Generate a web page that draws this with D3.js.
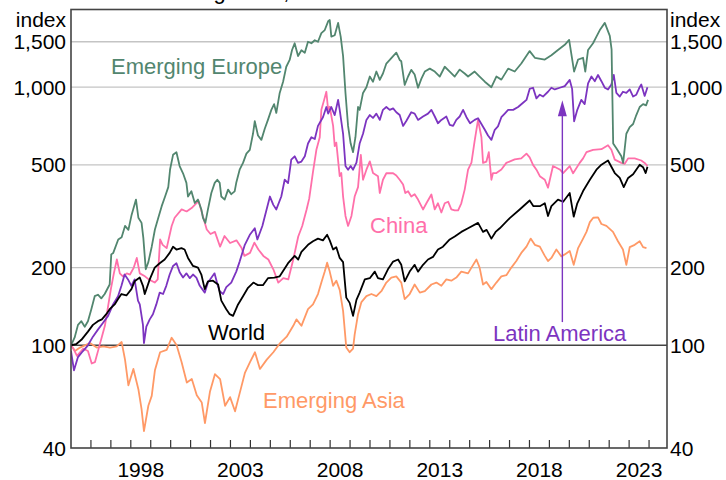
<!DOCTYPE html>
<html>
<head>
<meta charset="utf-8">
<script src="https://cdn.jsdelivr.net/npm/d3@7"></script>
<style>
  html, body { margin: 0; padding: 0; background: #ffffff; }
  svg { display: block; font-family: "Liberation Sans", Arial, Helvetica, sans-serif; }
</style>
</head>
<body>
<svg id="chart" width="726" height="480"></svg>
<script>
// ---- axis values ----
const yTickValues = [40, 100, 200, 500, 1000, 1500];
const gridValues = [200, 500, 1000, 1500];
const baseValue = 100;
const yearTicks = d3.range(1996, 2025);
const yearLabels = [1998, 2003, 2008, 2013, 2018, 2023];
const subtitle = "Log scale, end December 1994 = 100";

// ---- series: [decimal year, index] ----
const emergingAsia = [[1995.0,100],[1995.2,95],[1995.45,98],[1995.95,102],[1996.29,98],[1996.62,99],[1996.96,98],[1997.29,99],[1997.54,103],[1997.71,88],[1997.88,70],[1998.13,81],[1998.38,67.6],[1998.54,56.6],[1998.66,46.5],[1998.88,58.3],[1999.05,63.7],[1999.21,80],[1999.47,94],[1999.8,96],[2000.05,107],[2000.3,100],[2000.55,86],[2000.81,71.7],[2001.06,74],[2001.31,64],[2001.56,60],[2001.72,50],[2001.97,66],[2002.22,77.3],[2002.48,74],[2002.73,58.3],[2002.98,63],[2003.23,55.5],[2003.48,66],[2003.73,78.4],[2003.98,86],[2004.23,94],[2004.48,81],[2004.82,88],[2005.15,94],[2005.49,102],[2005.82,108],[2006.15,119],[2006.31,126],[2006.56,119],[2006.89,138],[2007.14,144],[2007.39,158],[2007.56,175],[2007.73,193],[2007.85,209],[2007.98,193],[2008.15,170],[2008.31,178],[2008.48,164],[2008.65,136],[2008.81,98],[2008.98,94],[2009.15,97],[2009.23,110],[2009.4,132],[2009.57,147],[2009.82,155],[2010.07,158],[2010.32,155],[2010.57,162],[2010.82,175],[2011.07,183],[2011.32,185],[2011.57,175],[2011.74,151],[2011.99,158],[2012.24,172],[2012.5,160],[2012.75,162],[2013.08,172],[2013.33,175],[2013.58,170],[2013.83,180],[2014.08,178],[2014.33,183],[2014.58,193],[2014.92,190],[2015.09,200],[2015.34,215],[2015.5,200],[2015.67,172],[2015.84,176],[2016.09,165],[2016.34,175],[2016.59,185],[2016.84,187],[2017.09,200],[2017.34,212],[2017.59,228],[2017.85,241],[2018.06,259],[2018.27,245],[2018.52,241],[2018.77,222],[2018.93,212],[2019.1,218],[2019.35,235],[2019.6,221],[2019.77,225],[2020.02,232],[2020.22,205],[2020.44,238],[2020.69,259],[2020.86,275],[2021.03,300],[2021.2,312],[2021.44,313],[2021.61,295],[2021.86,290],[2022.19,275],[2022.44,253],[2022.69,235],[2022.86,205],[2023.03,240],[2023.28,245],[2023.53,253],[2023.7,240],[2023.87,238]];

const china = [[1995.0,100],[1995.12,97],[1995.3,91],[1995.62,97],[1995.85,95],[1996.04,85],[1996.2,86],[1996.37,96],[1996.55,108],[1996.7,119],[1996.85,140],[1997.0,165],[1997.15,190],[1997.3,215],[1997.45,190],[1997.6,185],[1997.8,190],[1997.96,188],[1998.15,200],[1998.3,218],[1998.45,190],[1998.71,185],[1998.9,180],[1999.2,175],[1999.35,180],[1999.47,257],[1999.6,245],[1999.8,238],[2000.05,290],[2000.2,312],[2000.55,336],[2000.8,330],[2001.05,340],[2001.31,356],[2001.4,362],[2001.6,320],[2001.81,281],[2002.0,270],[2002.22,275],[2002.48,241],[2002.7,265],[2002.98,249],[2003.3,255],[2003.56,238],[2003.7,222],[2003.98,228],[2004.2,250],[2004.4,235],[2004.65,222],[2004.9,215],[2005.15,197],[2005.4,175],[2005.65,182],[2005.9,180],[2006.15,215],[2006.4,264],[2006.6,290],[2006.82,336],[2006.95,370],[2007.14,470],[2007.31,572],[2007.48,640],[2007.56,817],[2007.7,893],[2007.81,960],[2007.9,817],[2007.98,840],[2008.15,708],[2008.23,591],[2008.31,610],[2008.48,452],[2008.56,465],[2008.65,377],[2008.77,317],[2008.9,290],[2009.07,317],[2009.23,377],[2009.4,410],[2009.54,547],[2009.65,438],[2009.82,479],[2009.99,516],[2010.15,465],[2010.4,452],[2010.49,389],[2010.65,438],[2010.82,464],[2011.16,464],[2011.32,455],[2011.49,438],[2011.66,420],[2011.77,389],[2011.91,395],[2012.07,377],[2012.24,385],[2012.41,367],[2012.66,336],[2012.83,355],[2013.08,384],[2013.25,336],[2013.41,355],[2013.58,327],[2013.75,355],[2013.92,360],[2014.08,336],[2014.25,333],[2014.42,333],[2014.58,355],[2014.75,401],[2014.92,479],[2015.09,510],[2015.25,620],[2015.42,747],[2015.59,640],[2015.67,509],[2015.84,515],[2015.96,560],[2016.09,438],[2016.17,465],[2016.34,465],[2016.59,480],[2016.84,509],[2017.26,525],[2017.59,530],[2017.85,553],[2018.01,535],[2018.18,500],[2018.35,479],[2018.52,452],[2018.77,438],[2018.93,408],[2019.18,495],[2019.52,480],[2019.69,465],[2020.02,495],[2020.19,464],[2020.52,509],[2020.69,530],[2020.86,560],[2021.19,572],[2021.61,575],[2021.94,596],[2022.11,572],[2022.28,524],[2022.61,509],[2022.78,505],[2022.95,530],[2023.28,530],[2023.61,520],[2023.78,509],[2023.92,495]];

const latinAmerica = [[1995.0,95],[1995.15,80],[1995.35,90],[1995.6,95],[1995.85,100],[1996.1,108],[1996.35,115],[1996.6,122],[1996.86,130],[1997.11,144],[1997.36,155],[1997.53,170],[1997.69,188],[1997.86,180],[1998.03,170],[1998.19,180],[1998.36,149],[1998.45,144],[1998.61,120],[1998.66,102],[1998.78,118],[1998.95,126],[1999.11,132],[1999.28,144],[1999.45,160],[1999.62,158],[1999.78,170],[1999.95,188],[2000.12,203],[2000.29,208],[2000.45,192],[2000.62,183],[2000.79,190],[2000.96,182],[2001.12,188],[2001.29,183],[2001.46,170],[2001.71,160],[2001.87,175],[2002.2,190],[2002.35,172],[2002.46,162],[2002.63,158],[2002.79,168],[2003.04,175],[2003.29,193],[2003.46,211],[2003.72,245],[2003.97,268],[2004.22,284],[2004.35,257],[2004.6,290],[2004.98,377],[2005.15,350],[2005.3,336],[2005.55,377],[2005.72,438],[2005.89,425],[2006.05,524],[2006.22,540],[2006.39,509],[2006.56,515],[2006.73,540],[2006.89,605],[2007.06,640],[2007.23,630],[2007.39,708],[2007.64,765],[2007.81,838],[2007.9,790],[2008.06,838],[2008.23,780],[2008.4,893],[2008.48,817],[2008.65,660],[2008.77,495],[2008.9,479],[2009.03,495],[2009.15,479],[2009.32,510],[2009.48,605],[2009.65,660],[2009.82,747],[2009.99,780],[2010.15,760],[2010.32,790],[2010.49,747],[2010.65,817],[2010.82,838],[2010.99,817],[2011.16,828],[2011.32,800],[2011.49,780],[2011.66,708],[2011.82,740],[2012.07,800],[2012.24,790],[2012.41,747],[2012.66,770],[2012.91,790],[2013.08,817],[2013.25,770],[2013.41,725],[2013.58,747],[2013.83,770],[2014.0,715],[2014.17,708],[2014.33,747],[2014.5,770],[2014.67,817],[2014.84,765],[2015.02,725],[2015.25,747],[2015.42,758],[2015.59,720],[2015.76,684],[2015.92,650],[2016.09,625],[2016.26,684],[2016.42,705],[2016.59,765],[2016.76,790],[2016.93,817],[2017.18,817],[2017.43,838],[2017.68,870],[2017.85,893],[2018.01,985],[2018.18,995],[2018.35,905],[2018.52,935],[2018.68,920],[2018.93,960],[2019.1,995],[2019.27,980],[2019.52,995],[2019.77,1010],[2020.02,1067],[2020.14,985],[2020.24,738],[2020.4,817],[2020.6,893],[2020.77,860],[2020.94,1035],[2021.11,1100],[2021.28,1055],[2021.44,1115],[2021.61,1055],[2021.78,995],[2021.94,980],[2022.11,1025],[2022.23,1115],[2022.36,950],[2022.53,920],[2022.69,960],[2022.86,950],[2023.03,980],[2023.2,920],[2023.36,935],[2023.53,1000],[2023.61,1025],[2023.78,925],[2023.92,1000]];

const emergingEurope = [[1995.0,100],[1995.18,107],[1995.35,120],[1995.52,124],[1995.69,118],[1995.85,124],[1996.02,138],[1996.19,155],[1996.35,157],[1996.52,152],[1996.69,158],[1996.94,172],[1997.02,225],[1997.12,228],[1997.37,257],[1997.54,262],[1997.71,290],[1997.88,280],[1998.04,320],[1998.26,367],[1998.38,312],[1998.54,298],[1998.63,260],[1998.75,197],[1998.88,210],[1999.05,241],[1999.21,281],[1999.38,312],[1999.55,346],[1999.72,377],[1999.88,410],[1999.97,480],[2000.12,547],[2000.29,560],[2000.45,495],[2000.62,464],[2000.79,426],[2000.87,377],[2001.04,395],[2001.21,356],[2001.37,367],[2001.54,336],[2001.62,312],[2001.74,298],[2001.87,336],[2002.04,389],[2002.21,426],[2002.34,438],[2002.46,426],[2002.54,377],[2002.71,367],[2002.88,401],[2003.04,385],[2003.21,395],[2003.29,426],[2003.46,479],[2003.63,509],[2003.8,553],[2003.97,572],[2004.13,660],[2004.22,738],[2004.38,650],[2004.55,625],[2004.72,690],[2004.88,747],[2005.05,817],[2005.19,860],[2005.3,795],[2005.47,950],[2005.64,1050],[2005.8,1200],[2005.97,1275],[2006.09,1394],[2006.22,1480],[2006.39,1320],[2006.56,1390],[2006.73,1360],[2006.89,1500],[2007.06,1480],[2007.23,1520],[2007.39,1500],[2007.56,1620],[2007.73,1665],[2007.9,1800],[2007.98,1820],[2008.06,1570],[2008.23,1590],[2008.4,1775],[2008.53,1570],[2008.65,1320],[2008.77,950],[2008.9,708],[2009.03,605],[2009.15,560],[2009.27,640],[2009.4,838],[2009.48,817],[2009.65,950],[2009.82,1000],[2009.99,1100],[2010.15,1050],[2010.32,1150],[2010.49,1067],[2010.65,1130],[2010.82,1235],[2010.99,1275],[2011.16,1320],[2011.32,1360],[2011.49,1275],[2011.57,1260],[2011.74,1020],[2011.91,1100],[2012.07,1167],[2012.24,1120],[2012.41,995],[2012.58,1080],[2012.75,1150],[2013.0,1180],[2013.25,1150],[2013.5,1100],[2013.75,1200],[2014.0,1150],[2014.25,1100],[2014.5,1170],[2014.75,1130],[2014.92,1100],[2015.25,1150],[2015.5,1100],[2015.76,1050],[2016.09,1000],[2016.34,1100],[2016.59,1070],[2016.93,1180],[2017.26,1150],[2017.59,1235],[2018.01,1380],[2018.27,1300],[2018.77,1280],[2019.1,1330],[2019.43,1394],[2019.77,1460],[2019.99,1525],[2020.24,1150],[2020.44,1280],[2020.69,1300],[2020.8,1150],[2020.94,1394],[2021.19,1480],[2021.36,1570],[2021.53,1665],[2021.78,1775],[2022.03,1580],[2022.12,1400],[2022.2,605],[2022.36,580],[2022.61,540],[2022.7,509],[2022.86,660],[2023.03,700],[2023.2,720],[2023.36,780],[2023.53,838],[2023.7,860],[2023.85,850],[2023.95,893]];

const world = [[1995.0,100],[1995.25,101],[1995.52,105],[1995.85,113],[1996.1,120],[1996.35,124],[1996.55,126],[1996.77,132],[1996.94,138],[1997.19,144],[1997.36,151],[1997.53,158],[1997.78,156],[1998.03,165],[1998.19,177],[1998.45,183],[1998.61,170],[1998.7,158],[1998.95,180],[1999.2,200],[1999.45,208],[1999.7,215],[1999.95,228],[2000.12,241],[2000.29,235],[2000.54,238],[2000.7,235],[2000.87,218],[2001.12,203],[2001.37,200],[2001.54,188],[2001.71,165],[2001.87,177],[2002.12,178],[2002.38,172],[2002.54,149],[2002.79,138],[2002.96,132],[2003.13,130],[2003.38,144],[2003.63,155],[2003.88,167],[2004.15,175],[2004.38,171],[2004.63,171],[2004.88,182],[2005.2,183],[2005.47,185],[2005.89,208],[2006.22,222],[2006.4,215],[2006.56,230],[2006.89,245],[2007.14,253],[2007.39,259],[2007.64,255],[2007.85,268],[2007.98,255],[2008.15,235],[2008.31,240],[2008.48,218],[2008.65,210],[2008.81,153],[2008.98,146],[2009.15,130],[2009.32,150],[2009.48,160],[2009.74,180],[2009.99,182],[2010.24,193],[2010.4,182],[2010.65,180],[2010.9,197],[2011.16,211],[2011.41,215],[2011.57,205],[2011.74,177],[2011.99,193],[2012.24,205],[2012.41,193],[2012.66,205],[2012.91,215],[2013.16,220],[2013.41,235],[2013.66,241],[2014.0,257],[2014.25,264],[2014.58,275],[2014.92,284],[2015.42,298],[2015.67,275],[2015.85,280],[2016.09,259],[2016.3,275],[2016.51,284],[2017.01,311],[2017.51,336],[2018.01,364],[2018.2,346],[2018.52,346],[2018.77,355],[2018.93,317],[2019.1,346],[2019.43,367],[2019.69,360],[2020.02,389],[2020.22,315],[2020.4,355],[2020.69,396],[2021.03,438],[2021.36,479],[2021.61,501],[2021.94,520],[2022.28,465],[2022.53,445],[2022.73,410],[2022.95,445],[2023.2,460],[2023.53,501],[2023.7,490],[2023.83,465],[2023.92,492]];

// arrow pointing from the Latin America label up to its line
const arrowYear = 2019.65;
const arrowFromValue = 123;
const arrowToValue = 890;

// ---- layout ----
const plot = { left: 71, right: 667, top: 9.5, bottom: 448 };
const AXIS_FONT = 21;
const LABEL_FONT = 22;

const svg = d3.select("#chart");
const x = d3.scaleLinear().domain([1995, 2024.9]).range([plot.left, plot.right]);
const y = d3.scaleLog().domain([40, 2000]).range([plot.bottom, plot.top]);

// subtitle, sitting above the frame; only its descenders fall inside the view
svg.append("text")
  .attr("x", 189).attr("y", -1)
  .attr("font-size", LABEL_FONT).attr("fill", "#000")
  .text(subtitle);

// gridlines
svg.append("g").selectAll("line").data(gridValues).join("line")
  .attr("x1", plot.left).attr("x2", plot.right)
  .attr("y1", d => y(d)).attr("y2", d => y(d))
  .attr("stroke", "#c4c4c4").attr("stroke-width", 1.3);

// base line at 100
svg.append("line")
  .attr("x1", plot.left).attr("x2", plot.right)
  .attr("y1", y(baseValue)).attr("y2", y(baseValue))
  .attr("stroke", "#444").attr("stroke-width", 1.4);

// year ticks along the bottom, pointing up
svg.append("g").selectAll("line").data(yearTicks).join("line")
  .attr("x1", d => x(d)).attr("x2", d => x(d))
  .attr("y1", plot.bottom).attr("y2", plot.bottom - 8)
  .attr("stroke", "#333").attr("stroke-width", 1.2);

// series lines
svg.append("clipPath").attr("id", "plotClip")
  .append("rect")
  .attr("x", plot.left).attr("y", plot.top)
  .attr("width", plot.right - plot.left).attr("height", plot.bottom - plot.top);

const line = d3.line().x(d => x(d[0])).y(d => y(d[1]));
const series = [
  { data: emergingAsia, color: "#ff9966" },
  { data: china, color: "#ff70aa" },
  { data: latinAmerica, color: "#7c34c0" },
  { data: emergingEurope, color: "#52866f" },
  { data: world, color: "#000000" }
];
svg.append("g").attr("clip-path", "url(#plotClip)")
  .selectAll("path").data(series).join("path")
  .attr("d", d => line(d.data))
  .attr("fill", "none")
  .attr("stroke", d => d.color)
  .attr("stroke-width", 1.8)
  .attr("stroke-linejoin", "round");

// arrow
const ax = x(arrowYear);
const tipY = y(arrowToValue);
svg.append("line")
  .attr("x1", ax).attr("x2", ax)
  .attr("y1", y(arrowFromValue)).attr("y2", tipY + 12)
  .attr("stroke", "#7c34c0").attr("stroke-width", 1.4);
svg.append("path")
  .attr("d", `M${ax},${tipY} L${ax - 4.5},${tipY + 16} L${ax + 4.5},${tipY + 16} Z`)
  .attr("fill", "#7c34c0");

// frame
svg.append("rect")
  .attr("x", plot.left).attr("y", plot.top)
  .attr("width", plot.right - plot.left).attr("height", plot.bottom - plot.top)
  .attr("fill", "none").attr("stroke", "#444").attr("stroke-width", 1.6);

// y axis labels, both sides
const fmt = d3.format(",");
const yl = svg.append("g").attr("font-size", AXIS_FONT).attr("fill", "#000");
yl.selectAll("text.l").data(yTickValues).join("text").attr("class", "l")
  .attr("x", 66).attr("y", d => y(d)).attr("dy", "0.36em")
  .attr("text-anchor", "end").text(d => fmt(d));
yl.selectAll("text.r").data(yTickValues).join("text").attr("class", "r")
  .attr("x", 670).attr("y", d => y(d)).attr("dy", "0.36em")
  .attr("text-anchor", "start").text(d => fmt(d));
yl.append("text").attr("x", 66).attr("y", 26.5).attr("text-anchor", "end").text("index");
yl.append("text").attr("x", 670).attr("y", 26.5).attr("text-anchor", "start").text("index");

// x axis labels centred in each year
svg.append("g").attr("font-size", AXIS_FONT).attr("fill", "#000")
  .selectAll("text").data(yearLabels).join("text")
  .attr("x", d => x(d + 0.5)).attr("y", 476.5)
  .attr("text-anchor", "middle").text(d => d);

// series labels
const labels = [
  { text: "Emerging Europe", x: 111, y: 74, color: "#52866f" },
  { text: "China", x: 370, y: 233, color: "#ff70aa" },
  { text: "World", x: 208, y: 340, color: "#000000" },
  { text: "Emerging Asia", x: 263, y: 408, color: "#ff9966" },
  { text: "Latin America", x: 493, y: 340.5, color: "#7c34c0" }
];
svg.append("g").attr("font-size", LABEL_FONT)
  .selectAll("text").data(labels).join("text")
  .attr("x", d => d.x).attr("y", d => d.y)
  .attr("fill", d => d.color).text(d => d.text);
</script>
</body>
</html>
